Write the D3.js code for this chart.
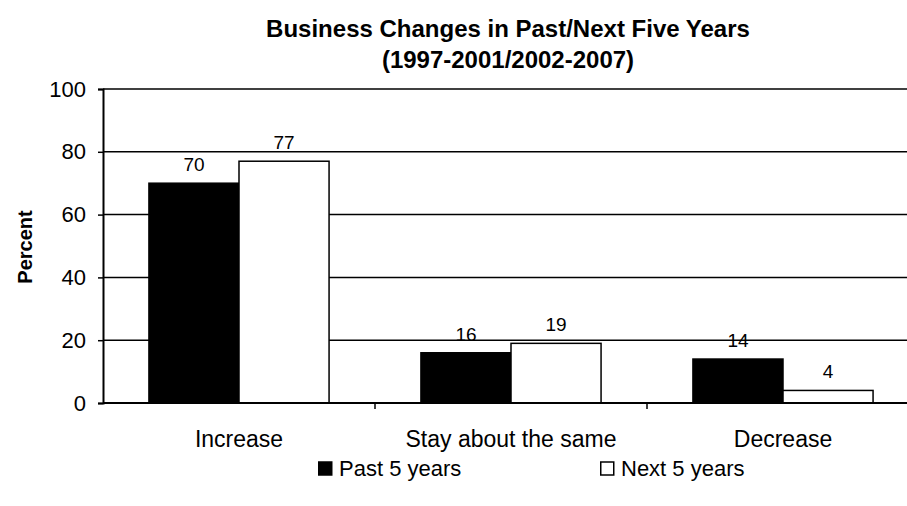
<!DOCTYPE html>
<meta charset="utf-8">
<script src="https://d3js.org/d3.v7.min.js"></script>
<style>
  body { margin: 0; background: #fff; }
  text { font-family: "Liberation Sans", Arial, sans-serif; fill: #000; }
</style>
<div id="chart"></div>
<script>
// categories, series and values
var categories = ["Increase", "Stay about the same", "Decrease"];
var seriesNames = ["Past 5 years", "Next 5 years"];
var pastValues = [70, 16, 14];
var nextValues = [77, 19, 4];
var yTicks = [0, 20, 40, 60, 80, 100];

var seriesFill = { "Past 5 years": "#000", "Next 5 years": "#fff" };

var width = 907, height = 506;
var margin = {top: 89, right: -12, bottom: 103, left: 103};

var svg = d3.select("#chart")
  .append("svg")
    .attr("width", width)
    .attr("height", height);

// build rows for the grouped bars
var rows = categories.map(function(c, i) {
  return { cat: c, values: [
    { series: seriesNames[0], value: pastValues[i] },
    { series: seriesNames[1], value: nextValues[i] }
  ]};
});

var x0 = d3.scaleBand()
  .domain(categories)
  .range([margin.left, width - margin.right])
  .padding(0);

var x1 = d3.scaleBand()
  .domain(seriesNames)
  .range([0, x0.bandwidth()])
  .paddingInner(0)
  .paddingOuter(0.51);

var y = d3.scaleLinear()
  .domain([0, 100])
  .range([height - margin.bottom, margin.top]);

// gridlines
svg.append("g")
  .selectAll("line")
  .data(yTicks.filter(function(d) { return d > 0; }))
  .enter().append("line")
    .attr("x1", margin.left)
    .attr("x2", width - margin.right)
    .attr("y1", function(d) { return y(d); })
    .attr("y2", function(d) { return y(d); })
    .attr("stroke", "#000")
    .attr("stroke-width", 1.5);

// bars
var groups = svg.append("g")
  .selectAll("g")
  .data(rows)
  .enter().append("g")
    .attr("transform", function(d) { return "translate(" + x0(d.cat) + ",0)"; });

groups.selectAll("rect")
  .data(function(d) { return d.values; })
  .enter().append("rect")
    .attr("x", function(d) { return x1(d.series); })
    .attr("y", function(d) { return y(d.value); })
    .attr("width", x1.bandwidth())
    .attr("height", function(d) { return y(0) - y(d.value); })
    .attr("fill", function(d) { return seriesFill[d.series]; })
    .attr("stroke", "#000")
    .attr("stroke-width", 1.5);

// value labels
groups.selectAll("text.val")
  .data(function(d) { return d.values; })
  .enter().append("text")
    .attr("class", "val")
    .attr("x", function(d) { return x1(d.series) + x1.bandwidth() / 2; })
    .attr("y", function(d) { return y(d.value) - 12; })
    .attr("text-anchor", "middle")
    .style("font-size", "19px")
    .text(function(d) { return d.value; });

// y axis
var yAxis = svg.append("g")
  .attr("transform", "translate(" + margin.left + ",0)")
  .call(d3.axisLeft(y).tickValues(yTicks).tickSize(5).tickPadding(12));
yAxis.select(".domain").attr("stroke-width", 2);
yAxis.selectAll(".tick line").attr("stroke-width", 1.5);
yAxis.selectAll(".tick text")
  .style("font-size", "22px")
  .style("font-family", "Liberation Sans, Arial, sans-serif");

// x axis: ticks on the category boundaries
var xAxis = svg.append("g")
  .attr("transform", "translate(0," + y(0) + ")");
xAxis.append("line")
  .attr("x1", margin.left)
  .attr("x2", width - margin.right)
  .attr("stroke", "#000")
  .attr("stroke-width", 2);
xAxis.selectAll("line.tk")
  .data(categories)
  .enter().append("line")
    .attr("class", "tk")
    .attr("x1", function(d) { return x0(d) + x0.bandwidth(); })
    .attr("x2", function(d) { return x0(d) + x0.bandwidth(); })
    .attr("y1", 0)
    .attr("y2", 6)
    .attr("stroke", "#000")
    .attr("stroke-width", 1.5);
xAxis.selectAll("text")
  .data(categories)
  .enter().append("text")
    .attr("x", function(d) { return x0(d) + x0.bandwidth() / 2; })
    .attr("y", 44)
    .attr("text-anchor", "middle")
    .style("font-size", "23px")
    .text(function(d) { return d; });

// y axis title
svg.append("text")
  .attr("transform", "translate(32,247) rotate(-90)")
  .attr("text-anchor", "middle")
  .style("font-size", "20px")
  .style("font-weight", "bold")
  .text("Percent");

// title
var title = svg.append("text")
  .attr("text-anchor", "middle")
  .style("font-size", "24px")
  .style("font-weight", "bold");
title.append("tspan").attr("x", 508).attr("y", 37)
  .text("Business Changes in Past/Next Five Years");
title.append("tspan").attr("x", 508).attr("y", 68)
  .text("(1997-2001/2002-2007)");

// legend
var legendX = [318, 600];
var legend = svg.append("g")
  .selectAll("g")
  .data(seriesNames)
  .enter().append("g")
    .attr("transform", function(d, i) { return "translate(" + legendX[i] + ",476)"; });
legend.append("rect")
  .attr("x", 0.75)
  .attr("y", -14)
  .attr("width", 13)
  .attr("height", 13)
  .attr("fill", function(d) { return seriesFill[d]; })
  .attr("stroke", "#000")
  .attr("stroke-width", 1.5);
legend.append("text")
  .attr("x", 21)
  .attr("y", 0)
  .style("font-size", "22px")
  .text(function(d) { return d; });
</script>
